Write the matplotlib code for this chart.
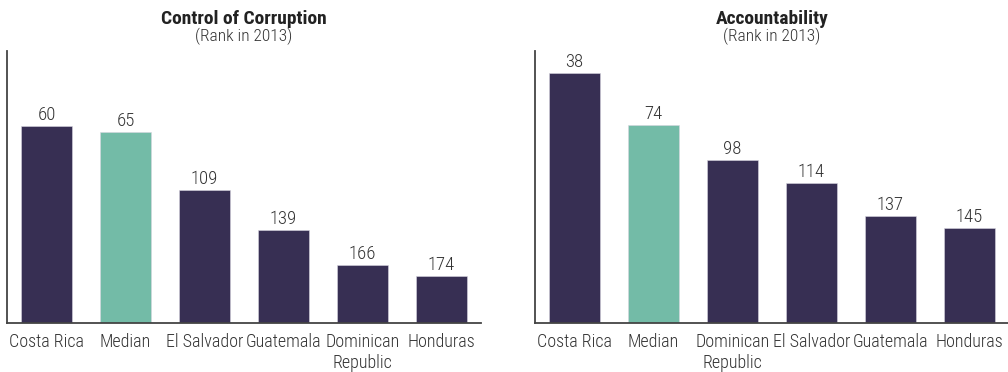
import matplotlib
matplotlib.use("Agg")
import matplotlib.pyplot as plt
from matplotlib import font_manager

# Condensed face if present, otherwise a plain sans
available = {f.name for f in font_manager.fontManager.ttflist}
family = None
for cand in ["Roboto Condensed", "Liberation Sans Narrow", "DejaVu Sans Condensed", "Noto Sans"]:
    if cand in available:
        family = cand
        break
plt.rcParams["font.family"] = [family, "DejaVu Sans"]

# Control of Corruption, rank in 2013
corr_countries = ["Costa Rica", "Median", "El Salvador", "Guatemala", "Dominican\nRepublic", "Honduras"]
corr_ranks = [60, 65, 109, 139, 166, 174]

# Accountability, rank in 2013
acc_countries = ["Costa Rica", "Median", "Dominican\nRepublic", "El Salvador", "Guatemala", "Honduras"]
acc_ranks = [38, 74, 98, 114, 137, 145]

titles = ["Control of Corruption", "Accountability"]
subtitle = "(Rank in 2013)"

DARK = "#372f53"
TEAL = "#73bba7"
TEXT = "#333333"

fig = plt.figure(figsize=(10.08, 3.72), dpi=100)

panels = [
    (corr_countries, corr_ranks, 7, (210, 3)),
    (acc_countries, acc_ranks, 535, (211, 22.5)),
]

W, H = 1008, 372
for i, (cats, ranks, x0, ylim) in enumerate(panels):
    ax = fig.add_axes([x0 / W, 1 - 323 / H, 474 / W, 272 / H])
    base = ylim[0]
    colors = [TEAL if c == "Median" else DARK for c in cats]
    xs = list(range(len(cats)))
    ax.bar(xs, [r - base for r in ranks], bottom=base, width=0.64,
           color=colors, edgecolor="#d8d6e0", linewidth=0.4)
    ax.set_ylim(*ylim)
    ax.set_xlim(-0.5, len(cats) - 0.5)
    for x, r in zip(xs, ranks):
        ax.annotate(str(r), (x, r), xytext=(0, 1.5), textcoords="offset points",
                    ha="center", va="bottom", fontsize=13.5, color=TEXT,
                    fontweight="light")
    ax.set_xticks(xs)
    ax.set_xticklabels(cats, fontsize=13, color=TEXT, linespacing=1.25,
                       fontweight="light")
    ax.tick_params(axis="x", length=0, pad=7)
    ax.set_yticks([])
    for s in ["top", "right"]:
        ax.spines[s].set_visible(False)
    for s in ["left", "bottom"]:
        ax.spines[s].set_color("#444444")
        ax.spines[s].set_linewidth(1.3)
    cx = (x0 + 237) / W
    fig.text(cx, 1 - 24 / H, titles[i], ha="center", va="baseline",
             fontsize=14, fontweight="bold", color="#222222")
    fig.text(cx, 1 - 41 / H, subtitle, ha="center", va="baseline",
             fontsize=12.5, color=TEXT, fontweight="light")

fig.savefig("out.png", dpi=100)
